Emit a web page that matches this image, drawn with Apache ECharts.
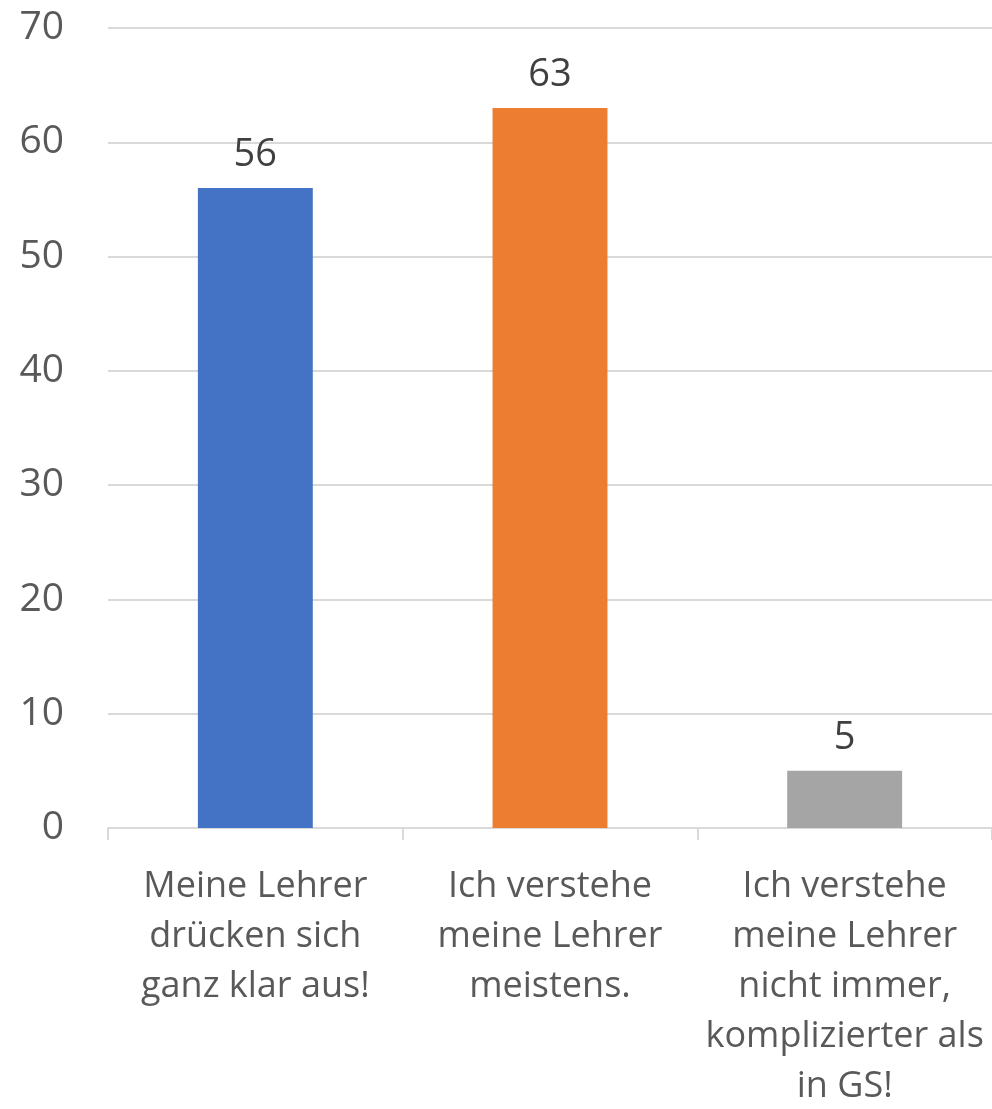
<!DOCTYPE html>
<html>
<head>
<meta charset="utf-8">
<script src="https://cdn.jsdelivr.net/npm/echarts@6/dist/echarts.min.js"></script>
<style>
  html, body { margin: 0; padding: 0; background: #fff; }
  #chart { width: 992px; height: 1109px; }
</style>
</head>
<body>
<div id="chart"></div>
<script>
const categories = [
  'Meine Lehrer\ndrücken sich\nganz klar aus!',
  'Ich verstehe\nmeine Lehrer\nmeistens.',
  'Ich verstehe\nmeine Lehrer\nnicht immer,\nkomplizierter als\nin GS!'
];
const values = [56, 63, 5];
const barColors = ['#4472C4', '#ED7D31', '#A5A5A5'];

const chart = echarts.init(document.getElementById('chart'));

chart.setOption({
  animation: false,
  textStyle: { fontFamily: 'Open Sans' },
  grid: {
    left: 108, right: 0, top: 28, bottom: 281,
    containLabel: false,
    outerBoundsMode: 'none'
  },
  xAxis: {
    type: 'category',
    data: categories,
    axisLine: { lineStyle: { color: '#d9d9d9', width: 2 } },
    axisTick: { show: true, length: 12, lineStyle: { color: '#d9d9d9', width: 2 } },
    axisLabel: {
      interval: 0,
      margin: 34,
      color: '#595959',
      fontSize: 36,
      lineHeight: 50,
      fontFamily: 'Open Sans'
    }
  },
  yAxis: {
    type: 'value',
    min: 0,
    max: 70,
    interval: 10,
    axisLine: { show: false },
    axisTick: { show: false },
    splitLine: { lineStyle: { color: '#d9d9d9', width: 2 } },
    axisLabel: {
      margin: 44,
      color: '#595959',
      fontSize: 39,
      fontFamily: 'Open Sans'
    }
  },
  series: [{
    type: 'bar',
    barWidth: '39%',
    data: values.map((v, i) => ({ value: v, itemStyle: { color: barColors[i] } })),
    label: {
      show: true,
      position: 'top',
      distance: 14,
      color: '#404040',
      fontSize: 38,
      fontFamily: 'Open Sans'
    }
  }]
});
</script>
</body>
</html>
